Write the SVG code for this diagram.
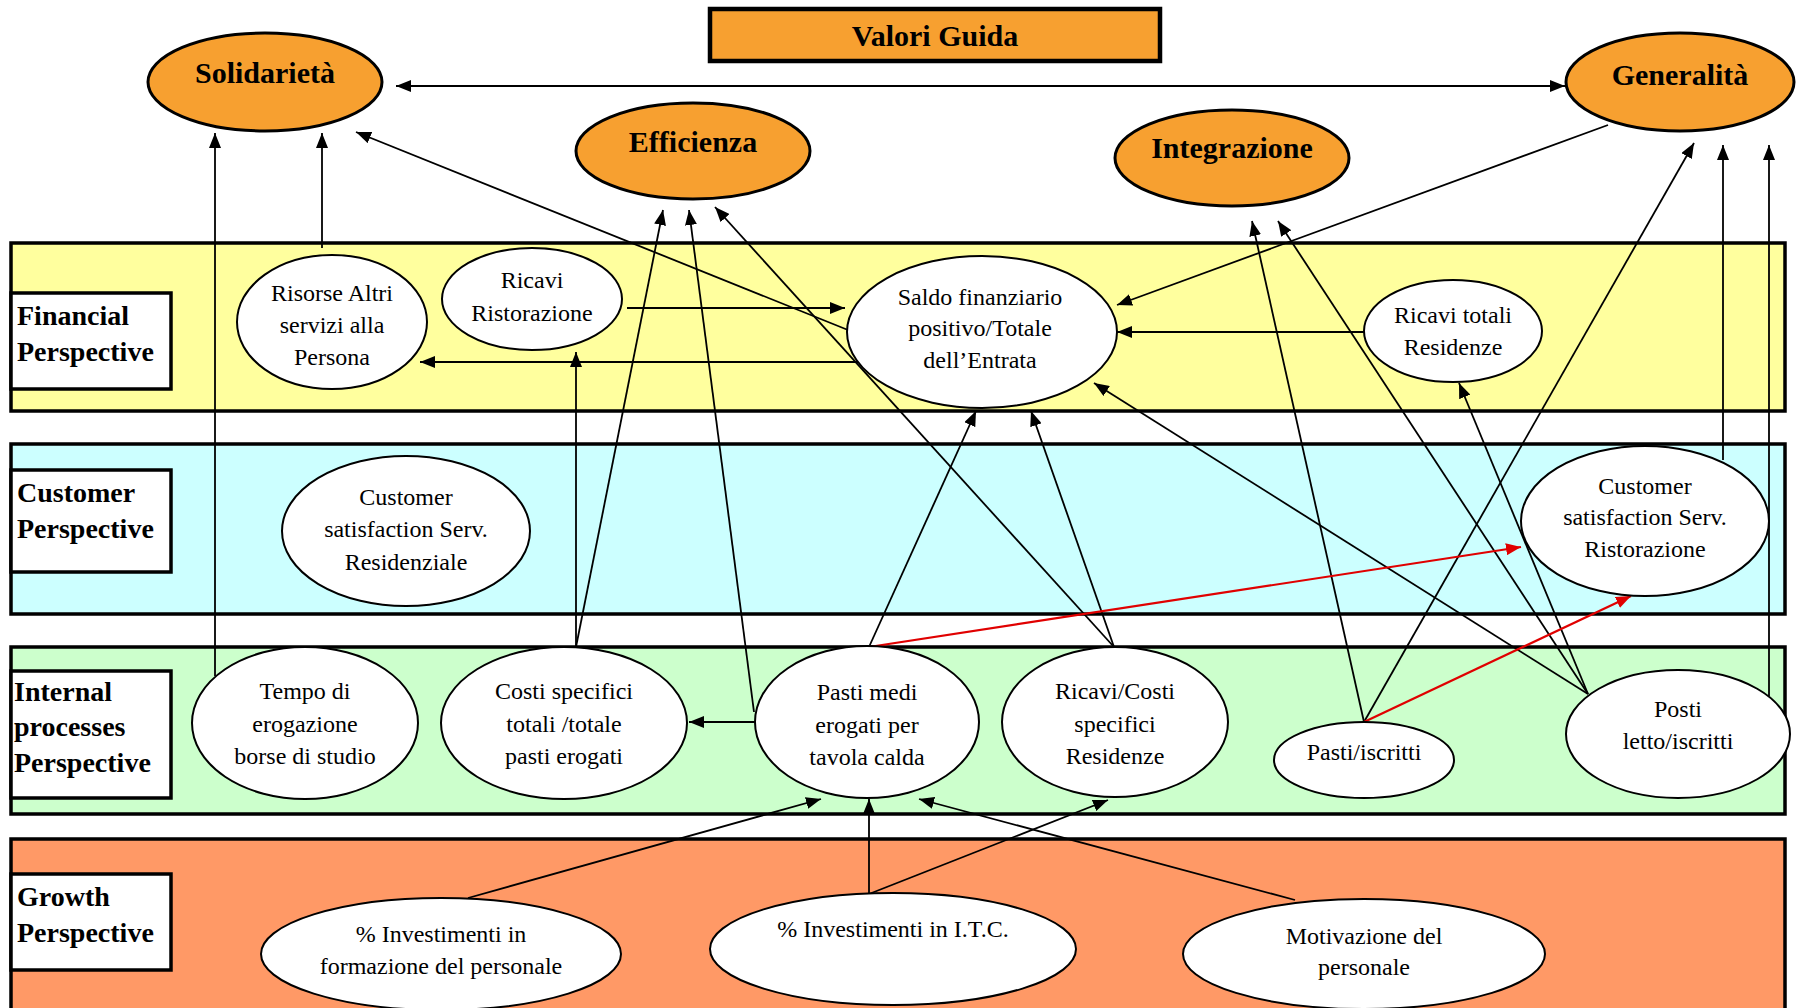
<svg xmlns="http://www.w3.org/2000/svg" width="1796" height="1008" viewBox="0 0 1796 1008">
<style>
.band{stroke:#000;stroke-width:3.5}
.lbl{fill:#fff;stroke:#000;stroke-width:3.5}
.lt{font-family:"Liberation Serif",serif;font-weight:bold;font-size:28px;fill:#000}
.val{fill:#F7A030;stroke:#000;stroke-width:3}
.vt{font-family:"Liberation Serif",serif;font-weight:bold;font-size:30px;fill:#000;text-anchor:middle}
.node{fill:#fff;stroke:#000;stroke-width:2}
.nt{font-family:"Liberation Serif",serif;font-size:24px;fill:#000;text-anchor:middle}
.c{stroke:#000;stroke-width:1.8;fill:none;marker-end:url(#ah)}
.r{stroke:#E00000;stroke-width:2.2;fill:none;marker-end:url(#ahr)}
</style>
<defs>
<marker id="ah" markerUnits="userSpaceOnUse" markerWidth="16" markerHeight="12" refX="15" refY="6" orient="auto">
<path d="M0,0 L15,6 L0,12 z" fill="#000"/>
</marker>
<marker id="ahs" markerUnits="userSpaceOnUse" markerWidth="16" markerHeight="12" refX="1" refY="6" orient="auto">
<path d="M16,0 L1,6 L16,12 z" fill="#000"/>
</marker>
<marker id="ahr" markerUnits="userSpaceOnUse" markerWidth="16" markerHeight="12" refX="15" refY="6" orient="auto">
<path d="M0,0 L15,6 L0,12 z" fill="#E00000"/>
</marker>
</defs>
<rect width="1796" height="1008" fill="#fff"/>

<g id="bands">
<rect class="band" x="11" y="243" width="1774" height="168" fill="#FFFF9E"/>
<rect class="band" x="11" y="444" width="1774" height="170" fill="#CCFFFF"/>
<rect class="band" x="11" y="647" width="1774" height="167" fill="#CCFFCC"/>
<rect class="band" x="11" y="839" width="1774" height="175" fill="#FF9966"/>
</g>

<g id="label-financial">
<rect class="lbl" x="11" y="293" width="160" height="96"/>
<text class="lt" x="17" y="325">Financial</text>
<text class="lt" x="17" y="361">Perspective</text>
</g>
<g id="label-customer">
<rect class="lbl" x="11" y="470" width="160" height="102"/>
<text class="lt" x="17" y="502">Customer</text>
<text class="lt" x="17" y="538">Perspective</text>
</g>
<g id="label-internal">
<rect class="lbl" x="11" y="671" width="160" height="127"/>
<text class="lt" x="14" y="701">Internal</text>
<text class="lt" x="14" y="736">processes</text>
<text class="lt" x="14" y="772">Perspective</text>
</g>
<g id="label-growth">
<rect class="lbl" x="11" y="874" width="160" height="96"/>
<text class="lt" x="17" y="906">Growth</text>
<text class="lt" x="17" y="942">Perspective</text>
</g>

<g id="connectors">
<line class="c" x1="396" y1="86" x2="1565" y2="86" marker-start="url(#ahs)"/>
<line class="c" x1="215" y1="676" x2="215" y2="133"/>
<line class="c" x1="322" y1="248" x2="322" y2="133"/>
<line class="c" x1="848" y1="330" x2="356" y2="132"/>
<line class="c" x1="627" y1="308" x2="845" y2="308"/>
<line class="c" x1="860" y1="362" x2="420" y2="362"/>
<line class="c" x1="576" y1="647" x2="576" y2="352"/>
<line class="c" x1="576" y1="647" x2="663" y2="210"/>
<line class="c" x1="754" y1="712" x2="689" y2="210"/>
<line class="c" x1="1114" y1="647" x2="715" y2="207"/>
<line class="c" x1="869" y1="647" x2="976" y2="411"/>
<line class="c" x1="1114" y1="647" x2="1031" y2="411"/>
<line class="c" x1="755" y1="722" x2="689" y2="722"/>
<line class="c" x1="468" y1="898" x2="821" y2="799"/>
<line class="c" x1="869" y1="894" x2="869" y2="799"/>
<line class="c" x1="869" y1="894" x2="1108" y2="800"/>
<line class="c" x1="1295" y1="900" x2="919" y2="799"/>
<line class="c" x1="1608" y1="125" x2="1117" y2="305"/>
<line class="c" x1="1364" y1="332" x2="1117" y2="332"/>
<line class="c" x1="1588" y1="694" x2="1094" y2="383"/>
<line class="c" x1="1588" y1="694" x2="1459" y2="383"/>
<line class="c" x1="1588" y1="694" x2="1278" y2="221"/>
<line class="c" x1="1364" y1="722" x2="1252" y2="221"/>
<line class="c" x1="1364" y1="722" x2="1694" y2="143"/>
<line class="c" x1="1723" y1="460" x2="1723" y2="145"/>
<line class="c" x1="1769" y1="696" x2="1769" y2="145"/>
<line class="r" x1="869" y1="647" x2="1521" y2="547"/>
<line class="r" x1="1364" y1="722" x2="1631" y2="596"/>
</g>

<g id="valori-guida">
<rect x="710" y="9" width="450" height="52" fill="#F7A030" stroke="#000" stroke-width="4.5"/>
<text class="vt" x="935" y="46">Valori Guida</text>
</g>
<g id="solidarieta">
<ellipse class="val" cx="265" cy="82" rx="117" ry="49"/>
<text class="vt" x="265" y="83">Solidarietà</text>
</g>
<g id="efficienza">
<ellipse class="val" cx="693" cy="151" rx="117" ry="48"/>
<text class="vt" x="693" y="152">Efficienza</text>
</g>
<g id="integrazione">
<ellipse class="val" cx="1232" cy="158" rx="117" ry="48"/>
<text class="vt" x="1232" y="158">Integrazione</text>
</g>
<g id="generalita">
<ellipse class="val" cx="1680" cy="82" rx="114" ry="49"/>
<text class="vt" x="1680" y="85">Generalità</text>
</g>

<g id="risorse">
<ellipse class="node" cx="332" cy="322" rx="95" ry="67"/>
<text class="nt" x="332" y="301">Risorse Altri</text>
<text class="nt" x="332" y="333">servizi alla</text>
<text class="nt" x="332" y="365">Persona</text>
</g>
<g id="ricavi-ristorazione">
<ellipse class="node" cx="532" cy="299" rx="90" ry="51"/>
<text class="nt" x="532" y="288">Ricavi</text>
<text class="nt" x="532" y="321">Ristorazione</text>
</g>
<g id="saldo">
<ellipse class="node" cx="982" cy="332" rx="135" ry="76"/>
<text class="nt" x="980" y="305">Saldo finanziario</text>
<text class="nt" x="980" y="336">positivo/Totale</text>
<text class="nt" x="980" y="368">dell’Entrata</text>
</g>
<g id="ricavi-totali">
<ellipse class="node" cx="1453" cy="331" rx="89" ry="51"/>
<text class="nt" x="1453" y="323">Ricavi totali</text>
<text class="nt" x="1453" y="355">Residenze</text>
</g>
<g id="cs-residenziale">
<ellipse class="node" cx="406" cy="531" rx="124" ry="75"/>
<text class="nt" x="406" y="505">Customer</text>
<text class="nt" x="406" y="537">satisfaction Serv.</text>
<text class="nt" x="406" y="570">Residenziale</text>
</g>
<g id="cs-ristorazione">
<ellipse class="node" cx="1645" cy="521" rx="124" ry="75"/>
<text class="nt" x="1645" y="494">Customer</text>
<text class="nt" x="1645" y="525">satisfaction Serv.</text>
<text class="nt" x="1645" y="557">Ristorazione</text>
</g>
<g id="tempo">
<ellipse class="node" cx="305" cy="723" rx="113" ry="76"/>
<text class="nt" x="305" y="699">Tempo di</text>
<text class="nt" x="305" y="732">erogazione</text>
<text class="nt" x="305" y="764">borse di studio</text>
</g>
<g id="costi">
<ellipse class="node" cx="564" cy="723" rx="123" ry="76"/>
<text class="nt" x="564" y="699">Costi specifici</text>
<text class="nt" x="564" y="732">totali /totale</text>
<text class="nt" x="564" y="764">pasti erogati</text>
</g>
<g id="pasti-medi">
<ellipse class="node" cx="867" cy="722" rx="112" ry="76"/>
<text class="nt" x="867" y="700">Pasti medi</text>
<text class="nt" x="867" y="733">erogati per</text>
<text class="nt" x="867" y="765">tavola calda</text>
</g>
<g id="ricavi-costi">
<ellipse class="node" cx="1115" cy="722" rx="113" ry="75"/>
<text class="nt" x="1115" y="699">Ricavi/Costi</text>
<text class="nt" x="1115" y="732">specifici</text>
<text class="nt" x="1115" y="764">Residenze</text>
</g>
<g id="pasti-iscritti">
<ellipse class="node" cx="1364" cy="760" rx="90" ry="38"/>
<text class="nt" x="1364" y="760">Pasti/iscritti</text>
</g>
<g id="posti-letto">
<ellipse class="node" cx="1678" cy="734" rx="112" ry="64"/>
<text class="nt" x="1678" y="717">Posti</text>
<text class="nt" x="1678" y="749">letto/iscritti</text>
</g>
<g id="inv-formazione">
<ellipse class="node" cx="441" cy="954" rx="180" ry="56"/>
<text class="nt" x="441" y="942">% Investimenti in</text>
<text class="nt" x="441" y="974">formazione del personale</text>
</g>
<g id="inv-itc">
<ellipse class="node" cx="893" cy="949" rx="183" ry="56"/>
<text class="nt" x="893" y="937">% Investimenti in I.T.C.</text>
</g>
<g id="motivazione">
<ellipse class="node" cx="1364" cy="954" rx="181" ry="55"/>
<text class="nt" x="1364" y="944">Motivazione del</text>
<text class="nt" x="1364" y="975">personale</text>
</g>
</svg>
